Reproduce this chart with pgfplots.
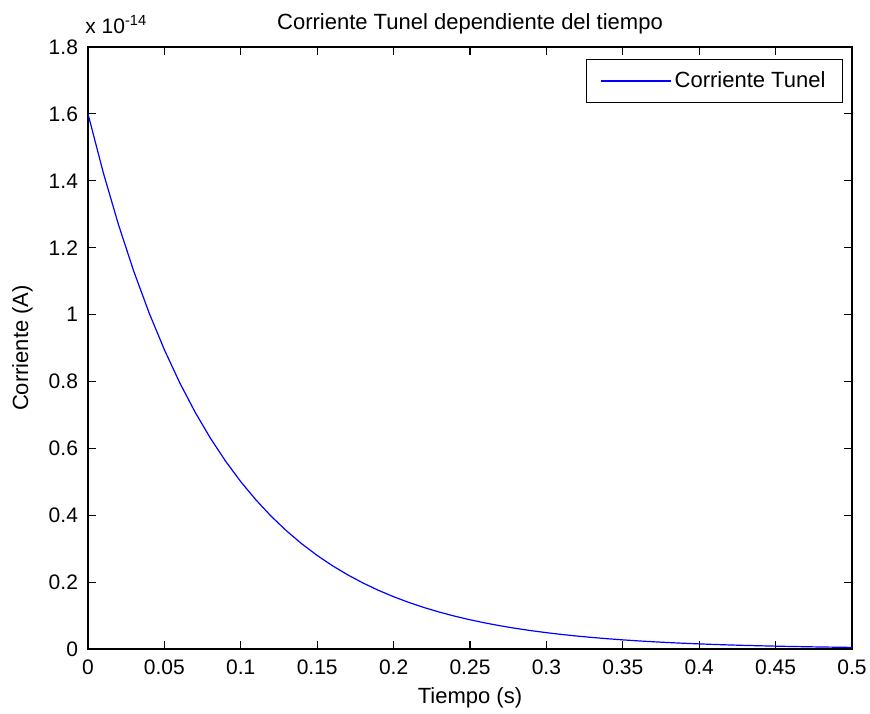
\documentclass[border=0pt]{standalone}
\usepackage{fontspec}
\setmainfont{Liberation Sans}
\usepackage{pgfplots}
\pgfplotsset{compat=1.18}

\begin{document}
\begin{tikzpicture}
  \begin{axis}[
    scale only axis,
    width=382pt, height=301pt,
    xmin=0, xmax=0.5,
    ymin=0, ymax=1.8e-14,
    xtick={0,0.05,...,0.5},
    ytick={0,0.2e-14,0.4e-14,0.6e-14,0.8e-14,1.0e-14,1.2e-14,1.4e-14,1.6e-14,1.8e-14},
    scaled x ticks=false,
    scaled y ticks=base 10:14,
    ytick scale label code/.code={x 10\textsuperscript{#1}},
    every y tick scale label/.style={at={(axis description cs:0,1)},anchor=base west,inner sep=0pt,yshift=7pt,font=\fontsize{10.5}{12}\selectfont},
    tick align=inside,
    major tick length=4pt,
    axis line style={line width=0.6pt},
    every tick/.style={black,line width=0.6pt},
    ticklabel style={font=\fontsize{10.5}{12}\selectfont,
      /pgf/number format/assume math mode=true,
      /pgf/number format/fixed,
      /pgf/number format/precision=2},
    xticklabel style={yshift=-2pt},
    yticklabel style={xshift=-1.5pt},
    title={Corriente Tunel dependiente del tiempo},
    title style={at={(axis description cs:0.5,1.0415)},anchor=center,yshift=-7pt,font=\fontsize{11}{13}\selectfont},
    xlabel={Tiempo (s)},
    xlabel style={at={(axis description cs:0.5,-0.0814)},anchor=center,font=\fontsize{11}{13}\selectfont},
    ylabel={Corriente (A)},
    ylabel style={at={(axis description cs:-0.0857,0.5)},anchor=center,font=\fontsize{11}{13}\selectfont},
    legend style={at={(axis description cs:0.9882,0.9801)},anchor=north east,
      draw=black,line width=0.5pt,inner xsep=6.75pt,inner ysep=4pt,
      nodes={inner xsep=1.75pt,inner ysep=2pt},
      font=\fontsize{11}{13}\selectfont},
    legend image code/.code={\draw[#1] (0pt,0pt) -- (35pt,0pt);},
  ]
    \addplot[blue,line width=0.6pt] coordinates {
      (0.00,1.60000e-14) (0.01,1.42437e-14) (0.02,1.26802e-14) (0.03,1.12883e-14)
      (0.04,1.00492e-14) (0.05,0.89461e-14) (0.06,0.79641e-14) (0.07,0.70899e-14)
      (0.08,0.63116e-14) (0.09,0.56188e-14) (0.10,0.50020e-14) (0.11,0.44529e-14)
      (0.12,0.39641e-14) (0.13,0.35290e-14) (0.14,0.31416e-14) (0.15,0.27967e-14)
      (0.16,0.24897e-14) (0.17,0.22164e-14) (0.18,0.19731e-14) (0.19,0.17565e-14)
      (0.20,0.15637e-14) (0.21,0.13921e-14) (0.22,0.12393e-14) (0.23,0.11032e-14)
      (0.24,0.09821e-14) (0.25,0.08743e-14) (0.26,0.07783e-14) (0.27,0.06929e-14)
      (0.28,0.06168e-14) (0.29,0.05491e-14) (0.30,0.04888e-14) (0.31,0.04352e-14)
      (0.32,0.03874e-14) (0.33,0.03449e-14) (0.34,0.03070e-14) (0.35,0.02733e-14)
      (0.36,0.02433e-14) (0.37,0.02166e-14) (0.38,0.01928e-14) (0.39,0.01717e-14)
      (0.40,0.01528e-14) (0.41,0.01360e-14) (0.42,0.01211e-14) (0.43,0.01078e-14)
      (0.44,0.00960e-14) (0.45,0.00854e-14) (0.46,0.00761e-14) (0.47,0.00677e-14)
      (0.48,0.00603e-14) (0.49,0.00537e-14) (0.50,0.00478e-14)
    };
    \addlegendentry{Corriente Tunel}
  \end{axis}
  \pgfresetboundingbox
  \path (-44pt,-32pt) rectangle (391pt,324.5pt);
\end{tikzpicture}
\end{document}
